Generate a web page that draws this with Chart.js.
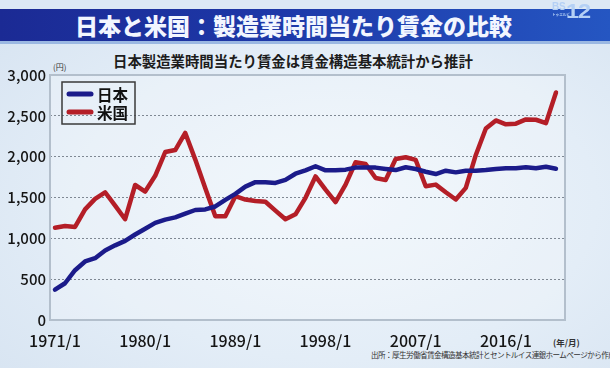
<!DOCTYPE html>
<html lang="ja">
<head>
<meta charset="utf-8">
<script src="https://cdn.jsdelivr.net/npm/chart.js@4/dist/chart.umd.min.js"></script>
<style>
  html, body { margin: 0; padding: 0; }
  body {
    width: 610px; height: 368px; overflow: hidden; position: relative;
    background: radial-gradient(ellipse at 55% 55%, #eef5fb 0%, #e3edf7 55%, #d6e3f1 100%);
    font-family: "Noto Sans CJK JP", "Noto Sans", sans-serif;
  }
  .topstrip { position: absolute; left: 0; top: 0; width: 610px; height: 9px; background: #dce8f5; }
  .banner {
    position: absolute; left: 0; top: 9px; width: 610px; height: 32px;
    background: linear-gradient(to right, #1b2a94 0%, #1d38a8 45%, #2556c2 100%);
    border-bottom: 3px solid #9bb8e2;
  }
  .banner h1 {
    position: absolute; left: 75px; top: 0; margin: 0; line-height: 32px;
    font-size: 23px; font-weight: 900; color: #f2f6ff; letter-spacing: 0;
  }
  .logo { position: absolute; left: 552px; top: 0; width: 50px; height: 22px; color: #b4d0f5; font-family: "Liberation Sans", sans-serif; font-weight: 700; z-index: 2; }
  .logo .bs { position: absolute; left: 0; top: 2px; font-size: 10px; line-height: 10px; letter-spacing: -0.3px; }
  .logo .num { position: absolute; left: 14px; top: 0; font-size: 21px; line-height: 21px; transform: scaleX(1.12); transform-origin: left top; letter-spacing: -1px; }
  .logo .kana { position: absolute; left: 0; top: 13px; font-size: 3.6px; line-height: 4px; white-space: nowrap; font-family: "Noto Sans CJK JP"; }
  .subtitle {
    position: absolute; left: 113px; top: 50px; font-size: 14.4px; font-weight: 700;
    color: #1c1c1c; white-space: nowrap;
  }
  .unit-y { position: absolute; left: 53px; top: 61px; font-size: 8px; color: #333; }
  .unit-x { position: absolute; left: 553px; top: 336px; font-size: 8.5px; color: #333; font-weight: 700; }
  .source {
    position: absolute; left: 371px; top: 349px; font-size: 7.6px; color: #333;
    white-space: nowrap; letter-spacing: -0.6px;
  }
  canvas { position: absolute; left: 0; top: 0; }
</style>
</head>
<body>
<div class="topstrip"></div>
<div class="banner"><h1>日本と米国：製造業時間当たり賃金の比較</h1></div>
<div class="logo"><span class="bs">BS</span><span class="num">12</span><span class="kana">トゥエルビ</span></div>
<div class="subtitle">日本製造業時間当たり賃金は賃金構造基本統計から推計</div>
<div class="unit-y">(円)</div>
<div class="unit-x">(年/月)</div>
<div class="source">出所：厚生労働省賃金構造基本統計とセントルイス連銀ホームページから作成</div>
<canvas id="wageChart" width="610" height="368"></canvas>

<script>
// annual points, 1971-2021
const years = [1971, 1972, 1973, 1974, 1975, 1976, 1977, 1978, 1979, 1980,
               1981, 1982, 1983, 1984, 1985, 1986, 1987, 1988, 1989, 1990,
               1991, 1992, 1993, 1994, 1995, 1996, 1997, 1998, 1999, 2000,
               2001, 2002, 2003, 2004, 2005, 2006, 2007, 2008, 2009, 2010,
               2011, 2012, 2013, 2014, 2015, 2016, 2017, 2018, 2019, 2020,
               2021];
const japanWage = [371, 450, 610, 717, 757, 851, 914, 969, 1047, 1118,
                   1189, 1229, 1256, 1303, 1347, 1354, 1390, 1470, 1545, 1633,
                   1688, 1688, 1679, 1716, 1791, 1833, 1883, 1833, 1833, 1841,
                   1866, 1866, 1866, 1850, 1836, 1870, 1849, 1815, 1787, 1828,
                   1808, 1828, 1828, 1836, 1849, 1857, 1857, 1870, 1857, 1877,
                   1853];
const usWage = [1130, 1150, 1140, 1355, 1483, 1564, 1400, 1234, 1653, 1573,
                1766, 2057, 2081, 2290, 1964, 1614, 1270, 1270, 1516, 1475,
                1456, 1448, 1340, 1234, 1294, 1496, 1758, 1596, 1444, 1657,
                1932, 1911, 1738, 1715, 1972, 1993, 1960, 1637, 1658, 1564,
                1476, 1618, 2021, 2344, 2444, 2396, 2404, 2456, 2452, 2411,
                2786];
const tickYears = [1971, 1980, 1989, 1998, 2007, 2016];
const tickLabels = ['1971/1', '1980/1', '1989/1', '1998/1', '2007/1', '2016/1'];
const seriesNames = ['日本', '米国'];

const JP_BLUE = '#1b1b8a';
const US_RED = '#b41e27';

// plot panel + frame
const framePlugin = {
    id: 'frame',
    beforeDatasetsDraw(chart) {
        const a = chart.chartArea, ctx = chart.ctx;
        ctx.save();
        ctx.strokeStyle = '#b3bfcc';
        ctx.lineWidth = 2;
        ctx.strokeRect(a.left, a.top, a.right - a.left, a.bottom - a.top);
        ctx.restore();
    },
    beforeDraw(chart) {
        const a = chart.chartArea, ctx = chart.ctx;
        ctx.save();
        ctx.fillStyle = 'rgba(255,255,255,0.22)';
        ctx.fillRect(a.left, a.top, a.right - a.left, a.bottom - a.top);
        ctx.restore();
    }
};

// boxed legend in the upper-left of the plot
const boxLegend = {
    id: 'boxLegend',
    afterDraw(chart) {
        const ctx = chart.ctx;
        ctx.save();
        ctx.strokeStyle = '#3a3a3a';
        ctx.lineWidth = 1.5;
        ctx.strokeRect(62, 82, 73, 42);
        chart.data.datasets.forEach((ds, i) => {
            const y = 94 + i * 18;
            ctx.strokeStyle = ds.borderColor;
            ctx.lineWidth = 5;
            ctx.lineCap = 'round';
            ctx.beginPath();
            ctx.moveTo(69, y);
            ctx.lineTo(91, y);
            ctx.stroke();
            ctx.fillStyle = '#111';
            ctx.font = 'bold 15.5px "Noto Sans CJK JP"';
            ctx.textBaseline = 'middle';
            ctx.fillText(ds.label, 97, y + 1);
        });
        ctx.restore();
    }
};

new Chart(document.getElementById('wageChart').getContext('2d'), {
    type: 'line',
    data: {
        datasets: [
            { label: seriesNames[0], data: years.map((y, i) => ({ x: y, y: japanWage[i] })),
              borderColor: JP_BLUE, borderWidth: 4.5, pointRadius: 0, tension: 0,
              borderJoinStyle: 'round', borderCapStyle: 'round' },
            { label: seriesNames[1], data: years.map((y, i) => ({ x: y, y: usWage[i] })),
              borderColor: US_RED, borderWidth: 4.5, pointRadius: 0, tension: 0,
              borderJoinStyle: 'round', borderCapStyle: 'round' }
        ]
    },
    options: {
        responsive: false,
        animation: false,
        layout: { padding: { top: 75, right: 45, bottom: 18, left: 0 } },
        plugins: { legend: { display: false }, tooltip: { enabled: false } },
        scales: {
            x: {
                type: 'linear', min: 1970.5, max: 2021.9,
                afterBuildTicks: (scale) => { scale.ticks = tickYears.map(v => ({ value: v })); },
                afterFit: (scale) => { scale.height = 30; },
                grid: { display: false, drawTicks: false },
                border: { display: false },
                ticks: {
                    padding: 11, color: '#151515', maxRotation: 0, autoSkip: false,
                    font: { family: '"Noto Sans CJK JP"', size: 16, weight: '500' },
                    callback: (v) => tickLabels[tickYears.indexOf(v)]
                }
            },
            y: {
                min: 0, max: 3000,
                afterFit: (scale) => { scale.width = 50; },
                grid: {
                    drawTicks: false, lineWidth: 1,
                    color: (c) => (c.tick && (c.tick.value === 0 || c.tick.value === 3000)) ? 'rgba(0,0,0,0)' : '#7f8893'
                },
                border: { display: false, dash: [2, 2] },
                ticks: {
                    stepSize: 500, padding: 4, color: '#151515',
                    font: { family: '"Noto Sans CJK JP"', size: 15, weight: '500' },
                    callback: (v) => v.toLocaleString('en-US')
                }
            }
        }
    },
    plugins: [framePlugin, boxLegend]
});
</script>
</body>
</html>
